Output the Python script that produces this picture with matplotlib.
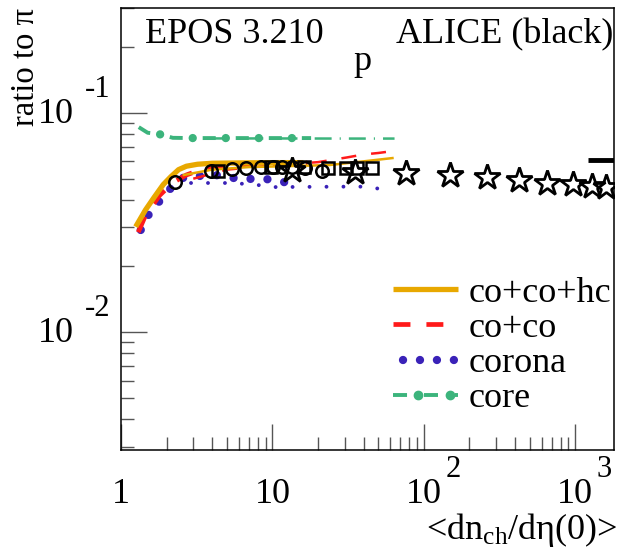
import matplotlib
matplotlib.use("Agg")
import matplotlib.pyplot as plt
from matplotlib.lines import Line2D
from matplotlib.legend_handler import HandlerLine2D
from matplotlib.ticker import LogLocator, NullFormatter

plt.rcParams['font.family'] = ['Liberation Serif', 'DejaVu Serif']
plt.rcParams['mathtext.fontset'] = 'custom'
plt.rcParams['mathtext.rm'] = 'Liberation Serif'
plt.rcParams['mathtext.it'] = 'Liberation Serif:italic'
plt.rcParams['lines.scale_dashes'] = False

# ---- ALICE data (black markers) ----
pp_x = [2.26, 3.90, 5.40, 6.72, 8.45, 10.1, 11.5, 13.5, 16.5, 21.3]
pp_y = [0.0485, 0.054, 0.0555, 0.0562, 0.0565, 0.0568, 0.0568, 0.0566, 0.0562, 0.0545]
ppb_x = [4.4, 9.8, 16.1, 23.2, 30.5, 36.2, 45.1]
ppb_y = [0.054, 0.0565, 0.0565, 0.0562, 0.056, 0.056, 0.056]
pbpb_x = [13.4, 35, 76, 149, 261, 426, 649, 966, 1294, 1601]
pbpb_y = [0.0548, 0.0537, 0.0531, 0.052, 0.0509, 0.0493, 0.0478, 0.0473, 0.0463, 0.0458]
pbpb_epos_x = [1220, 1800]
pbpb_epos_y = [0.0608, 0.0608]

# ---- EPOS curves: pp (thick) and pPb (thin) ----
cch_pp_x = [1.25, 1.45, 1.65, 1.9, 2.13, 2.4, 2.7, 3.2, 4, 6, 10, 16]
cch_pp_y = [0.0302, 0.036, 0.041, 0.047, 0.051, 0.055, 0.057, 0.0582, 0.0588, 0.059, 0.0592, 0.0592]
cch_pa_x = [2.6, 4, 7, 12, 23.7, 40, 62]
cch_pa_y = [0.052, 0.055, 0.0565, 0.057, 0.0577, 0.060, 0.0621]

cc_pp_x = [1.3, 1.45, 1.8, 2.2, 2.7, 3.5, 5, 8, 12, 17]
cc_pp_y = [0.0285, 0.034, 0.042, 0.048, 0.052, 0.0555, 0.057, 0.058, 0.0585, 0.059]
cc_pa_x = [3, 5, 10, 20, 31, 40, 50, 64]
cc_pa_y = [0.050, 0.055, 0.0575, 0.0595, 0.0625, 0.0645, 0.0655, 0.067]

cor_pp_x = [1.35, 1.53, 1.78, 2.07, 2.56, 3.2, 4.2, 5.5, 7, 9, 11.6, 14.8]
cor_pp_y = [0.0292, 0.0345, 0.0392, 0.0444, 0.0504, 0.0514, 0.052, 0.0504, 0.0499, 0.0499, 0.0483, 0.0478]
cor_pa_x = [2.9, 5.5, 8, 10.3, 29, 40, 47, 61]
cor_pa_y = [0.0478, 0.0478, 0.0468, 0.0458, 0.046, 0.046, 0.0453, 0.0444]

core_pp_x = [1.31, 1.5, 1.78, 2.2, 3, 5, 10, 18]
core_pp_y = [0.0859, 0.081, 0.0799, 0.0768, 0.0766, 0.0766, 0.0766, 0.0766]
core_pa_x = [4, 10, 30, 64]
core_pa_y = [0.0763, 0.0763, 0.0762, 0.0762]

YEL, RED, BLU, GRN = '#E8A800', '#FF1A1A', '#3A22B8', '#3CB47C'
FS = 26

fig = plt.figure(figsize=(6.19, 5.56), dpi=100)
ax = fig.add_axes([121 / 619, 1 - 450 / 556, 493 / 619, 442 / 556])
ax.set_xscale('log')
ax.set_yscale('log')
ax.set_xlim(1, 1800)
ax.set_ylim(0.0029, 0.3)

# core: thick dash + dots, thin dash-dot
ax.plot(core_pp_x, core_pp_y, color=GRN, lw=2.8, ls=(0, (9.4, 14.4)))
ax.plot(core_pp_x, core_pp_y, color=GRN, lw=6, ls=(7.2, (0.01, 23.8)), dash_capstyle='round')
ax.plot(core_pa_x, core_pa_y, color=GRN, lw=1.8, ls=(0, (12.2, 5.8, 0.8, 5.8)))

# corona: dotted
ax.plot(cor_pp_x, cor_pp_y, color=BLU, lw=6, ls=(0, (0.01, 12.2)), dash_capstyle='round')
ax.plot(cor_pa_x, cor_pa_y, color=BLU, lw=2.8, ls=(0, (0.01, 12.2)), dash_capstyle='round')

# co+co: dashed
cc_line, = ax.plot(cc_pp_x, cc_pp_y, color=RED, lw=3.4, ls=(0, (12.2, 11.5)))
ax.plot(cc_pa_x, cc_pa_y, color=RED, lw=1.8, ls=(0, (10.8, 10.8)))

# co+co+hc: solid
cch_line, = ax.plot(cch_pp_x, cch_pp_y, color=YEL, lw=3.8, solid_capstyle='butt')
ax.plot(cch_pa_x, cch_pa_y, color=YEL, lw=1.8)

ax.plot(pbpb_epos_x, pbpb_epos_y, color='black', lw=3.5, solid_capstyle='butt')

# ALICE points
ax.plot(pp_x, pp_y, ls='none', marker='o', ms=9, mfc='none', mec='black', mew=1.8, zorder=5)
ax.plot(ppb_x, ppb_y, ls='none', marker='s', ms=9, mfc='none', mec='black', mew=1.8, zorder=5)
ax.plot(pbpb_x, pbpb_y, ls='none', marker='*', ms=19, mfc='none', mec='black', mew=2, zorder=5)

# axes styling (ROOT-like)
for s in ax.spines.values():
    s.set_linewidth(1.1)
ax.xaxis.set_major_locator(LogLocator(base=10, numticks=10))
ax.xaxis.set_minor_locator(LogLocator(base=10, subs=range(2, 10), numticks=20))
ax.yaxis.set_major_locator(LogLocator(base=10, numticks=10))
ax.yaxis.set_minor_locator(LogLocator(base=10, subs=range(2, 10), numticks=20))
for axis in (ax.xaxis, ax.yaxis):
    axis.set_major_formatter(NullFormatter())
    axis.set_minor_formatter(NullFormatter())
ax.tick_params(which='both', direction='in', top=False, right=False, color='#555555', width=1)
ax.tick_params(which='major', length=19)
ax.tick_params(which='minor', length=9.5)

# tick labels, ROOT style
xt = ax.get_xaxis_transform()
for v, base, sup in [(1, '1', None), (10, '10', None), (100, '10', '2'), (1000, '10', '3')]:
    ax.text(v, -0.1, base, transform=xt, ha='center', va='center', fontsize=FS)
    if sup:
        ax.annotate(sup, xy=(v, -0.1), xycoords=xt, xytext=(21, 18), textcoords='offset points',
                    ha='center', va='center', fontsize=FS * 0.85)
yt = ax.get_yaxis_transform()
for v, sup in [(0.1, '-1'), (0.01, '-2')]:
    ax.annotate('10', xy=(0, v), xycoords=yt, xytext=(-34, -1), textcoords='offset points',
                ha='right', va='center', fontsize=FS)
    ax.annotate(sup, xy=(0, v), xycoords=yt, xytext=(-17, 17), textcoords='offset points',
                ha='center', va='center', fontsize=FS * 0.85)

ax.text(0.049, 0.921, 'EPOS 3.210', transform=ax.transAxes, fontsize=FS, va='baseline')
ax.text(0.998, 0.921, 'ALICE (black)', transform=ax.transAxes, fontsize=FS, va='baseline', ha='right')
ax.text(0.489, 0.86, 'p', transform=ax.transAxes, fontsize=FS, va='baseline', ha='center')

fig.text(26 / 619, 1 - 8 / 556, 'ratio to π', rotation=90, ha='center', va='top', fontsize=23.5)
fig.text(617 / 619, 1 - 530 / 556, '<dn$_{\\mathrm{ch}}$/dη(0)>', ha='right', va='center', fontsize=FS)


# legend handles: corona dots shifted in, core = dashed line with two round dots
def keep_markevery(leg_line, orig):
    leg_line.update_from(orig)
    leg_line.set_markevery(orig.get_markevery())


cor_leg = Line2D([], [], color=BLU, lw=6, ls=(5, (0.01, 12.2)), dash_capstyle='round')
core_leg = Line2D([], [], color=GRN, lw=2.8, ls=(0, (10.1, 12.2)),
                  marker='o', ms=6, markevery=[3, 7])

leg = ax.legend([cch_line, cc_line, cor_leg, core_leg],
                ['co+co+hc', 'co+co', 'corona', 'core'],
                handler_map={core_leg: HandlerLine2D(numpoints=9, marker_pad=0,
                                                     update_func=keep_markevery)},
                loc='upper left', bbox_to_anchor=(0.552, 0.392), frameon=False, fontsize=FS,
                borderpad=0, borderaxespad=0, handlelength=1.8, handletextpad=0.28,
                labelspacing=0.05)

fig.savefig('out.png', dpi=100)
